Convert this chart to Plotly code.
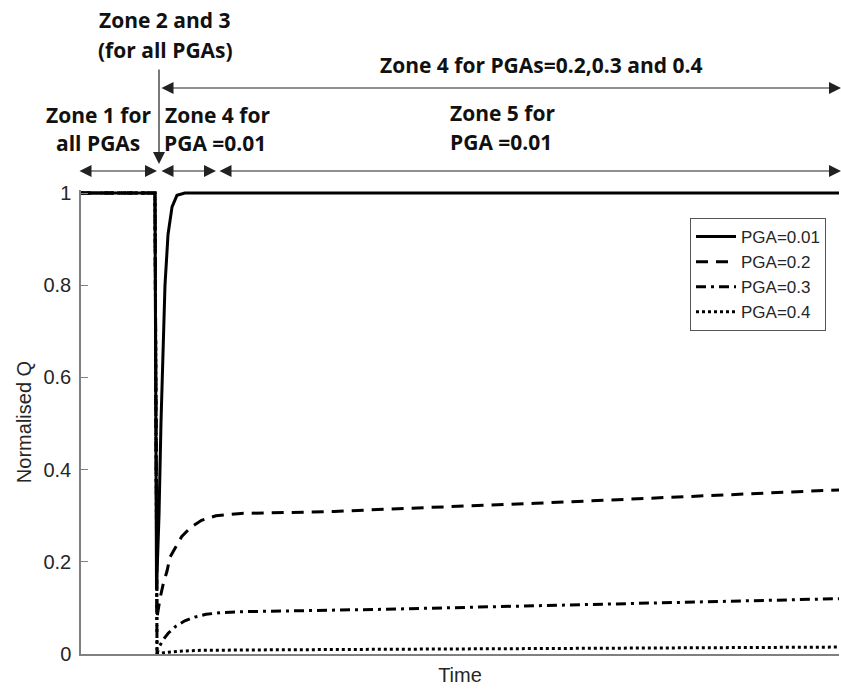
import plotly.graph_objects as go

# ---- data (time in arbitrary units, values = normalised Q) ----
t_001 = [0, 9.76, 9.96, 10.29, 10.55, 10.86, 11.08, 11.48, 12.01, 12.66, 13.7, 100]
q_001 = [1.0, 1.0, 0.14, 0.30, 0.50, 0.66, 0.80, 0.91, 0.97, 0.995, 1.0, 1.0]

t_02 = [0, 9.76, 10.03, 10.42, 10.82, 11.35, 11.74, 12.6, 13.3, 14.5, 15.9, 17.8, 21.1, 33.4, 40, 60, 80, 100]
q_02 = [1.0, 1.0, 0.08, 0.12, 0.15, 0.18, 0.21, 0.235, 0.255, 0.275, 0.29, 0.30, 0.305, 0.309, 0.314, 0.327, 0.341, 0.356]

t_03 = [0, 9.76, 10.03, 10.3, 10.8, 11.5, 12.5, 13.7, 15.0, 16.5, 18.5, 22, 40, 60, 80, 100]
q_03 = [1.0, 1.0, 0.0, 0.015, 0.03, 0.045, 0.06, 0.072, 0.08, 0.086, 0.09, 0.092, 0.097, 0.105, 0.112, 0.12]

t_04 = [0, 9.76, 10.03, 11, 13, 16, 25, 50, 75, 100]
q_04 = [1.0, 1.0, 0.0, 0.003, 0.006, 0.008, 0.009, 0.011, 0.013, 0.015]

series_names = ["PGA=0.01", "PGA=0.2", "PGA=0.3", "PGA=0.4"]
y_ticks = [0, 0.2, 0.4, 0.6, 0.8, 1]
y_tick_labels = ["0", "0.2", "0.4", "0.6", "0.8", "1"]

# ---- layout geometry (pixels) ----
W, H = 841, 691
L, R, T, B = 81, 2, 190, 37
PW = W - L - R
PH = H - T - B


def dx(px):
    return (px - L) / PW


def dy(py):
    return (H - B - py) / PH


fig = go.Figure()
styles = [
    dict(dash="solid", width=3),
    dict(dash="12px,8px", width=3),
    dict(dash="10px,5px,3px,5px", width=3),
    dict(dash="3px,3px", width=3),
]
for name, tx, qy, st in zip(series_names, [t_001, t_02, t_03, t_04],
                            [q_001, q_02, q_03, q_04], styles):
    fig.add_trace(go.Scatter(x=tx, y=qy, mode="lines", name=name,
                             line=dict(color="black", width=st["width"], dash=st["dash"])))

ann = []
arrow_col = "#222222"


def harrow(x0, x1, y, double=True):
    a = dict(x=dx(x1), y=dy(y), ax=dx(x0), ay=dy(y),
             xref="x domain", yref="y domain", axref="x domain", ayref="y domain",
             text="", showarrow=True, arrowhead=2, arrowsize=2, arrowwidth=1.2,
             arrowcolor=arrow_col)
    if double:
        a.update(arrowside="end+start", startarrowhead=2, startarrowsize=2)
    return a


ann.append(harrow(78, 157, 171))
ann.append(harrow(160, 216, 171))
ann.append(harrow(218, 841, 171))
ann.append(harrow(160, 841, 88))
# vertical arrow
ann.append(dict(x=dx(159), y=dy(164), ax=dx(159), ay=dy(68),
                xref="x domain", yref="y domain", axref="x domain", ayref="y domain",
                text="", showarrow=True, arrowhead=2, arrowsize=2, arrowwidth=1.2,
                arrowcolor=arrow_col))

tfont = dict(family="Open Sans", size=21, color="#111111")


def label(txt, px, py, anchor="center"):
    return dict(x=dx(px), y=dy(py), xref="x domain", yref="y domain", text="<b>" + txt + "</b>",
                showarrow=False, xanchor=anchor, yanchor="middle", font=tfont)


ann += [
    label("Zone 2 and 3", 165, 20),
    label("(for all PGAs)", 165, 50),
    label("Zone 1 for", 98, 115),
    label("all PGAs", 98, 143),
    label("Zone 4 for", 163, 115, "left"),
    label("PGA =0.01", 162, 143, "left"),
    label("Zone 4 for PGAs=0.2,0.3 and 0.4", 541, 65),
    label("Zone 5 for", 448, 113, "left"),
    label("PGA =0.01", 448, 142, "left"),
]

axfont = dict(family="Arial", size=20, color="#262626")
fig.update_layout(
    width=W, height=H,
    margin=dict(l=L, r=R, t=T, b=B),
    paper_bgcolor="white", plot_bgcolor="white",
    showlegend=True,
    legend=dict(x=dx(826), y=dy(218), xanchor="right", yanchor="top",
                xref="paper", yref="paper",
                bordercolor="#555555", borderwidth=1, bgcolor="white",
                font=dict(family="Arial", size=17, color="#262626"),
                itemwidth=40, tracegroupgap=0),
    annotations=ann,
    xaxis=dict(range=[0, 100], showline=True, linecolor="#808080", linewidth=1.5,
               showticklabels=False, ticks="", showgrid=False, zeroline=False,
               title=dict(text="Time", font=axfont, standoff=13)),
    yaxis=dict(range=[0, 1.0065], showline=True, linecolor="#808080", linewidth=1.5,
               tickvals=y_ticks, ticktext=y_tick_labels, ticks="inside", ticklen=7,
               tickcolor="#808080", tickfont=axfont, showgrid=False, zeroline=False,
               ticklabelstandoff=4,
               title=dict(text="Normalised Q", font=axfont, standoff=6)),
)

fig.write_html("out.html", config={"displayModeBar": False},
               post_script="document.body.style.margin='0';document.body.style.overflow='hidden';")
